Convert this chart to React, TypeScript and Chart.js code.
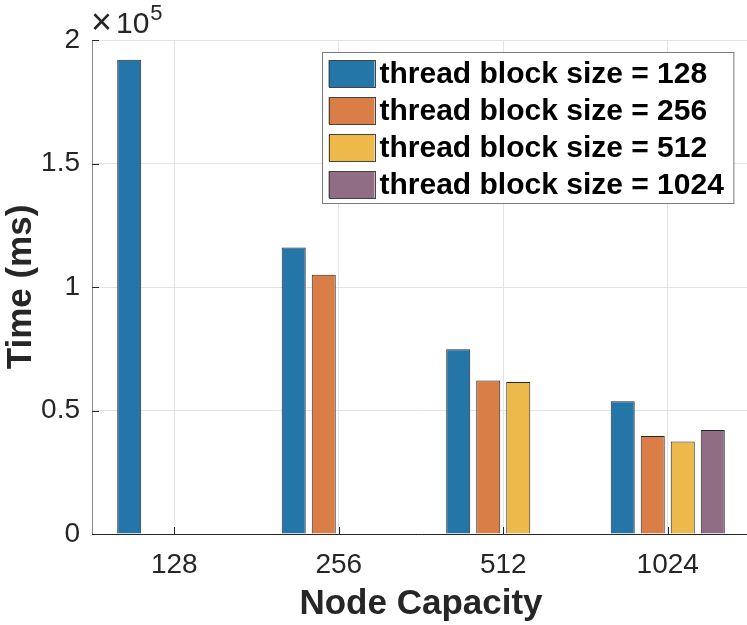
import React, { useEffect, useRef } from 'react';
import { Chart, registerables } from 'chart.js';

Chart.register(...registerables);

const categories = ['128', '256', '512', '1024'];
const seriesLabels = [
  'thread block size = 128',
  'thread block size = 256',
  'thread block size = 512',
  'thread block size = 1024',
];
const tb128 = [192000, 116000, 74800, 53700];
const tb256 = [0, 105000, 62100, 39700];
const tb512 = [0, 0, 61500, 37400];
const tb1024 = [0, 0, 0, 42100];
const yTickValues = [0, 50000, 100000, 150000, 200000];
const yScaleFactor = 100000;
const exponentTimes = '×';
const exponentBase = '10';
const exponentPower = '5';
const seriesColors = ['#2475a8', '#d97e46', '#ecb94a', '#916d84'];

const FONT = '"Liberation Sans", Arial, Helvetica, sans-serif';
const TEXT = '#262626';

const overlayPlugin = {
  id: 'overlay',
  afterDraw(chart: any) {
    const ctx = chart.ctx as CanvasRenderingContext2D;
    const { left, top, bottom, right } = chart.chartArea;
    const ys = chart.scales.y;
    const xs = chart.scales.x;
    ctx.save();
    // inward tick marks
    ctx.strokeStyle = TEXT;
    ctx.lineWidth = 1;
    ctx.beginPath();
    yTickValues.forEach((v) => {
      const py = Math.round(ys.getPixelForValue(v)) + 0.5;
      ctx.moveTo(left, py);
      ctx.lineTo(left + 7, py);
    });
    categories.forEach((_c, i) => {
      const px = Math.round(xs.getPixelForValue(i)) + 0.5;
      ctx.moveTo(px, bottom);
      ctx.lineTo(px, bottom - 7);
    });
    ctx.stroke();

    // exponent label
    ctx.fillStyle = TEXT;
    ctx.textAlign = 'left';
    ctx.textBaseline = 'alphabetic';
    ctx.font = `36px ${FONT}`;
    ctx.fillText(exponentTimes, left - 1, top - 6);
    ctx.font = `30px ${FONT}`;
    ctx.fillText(exponentBase, left + 24, top - 7);
    const bw = ctx.measureText(exponentBase).width;
    ctx.font = `22px ${FONT}`;
    ctx.fillText(exponentPower, left + 25 + bw, top - 20);

    // legend
    ctx.font = `bold 30px ${FONT}`;
    let maxW = 0;
    seriesLabels.forEach((l) => {
      maxW = Math.max(maxW, ctx.measureText(l).width);
    });
    const swW = 46;
    const swH = 27;
    const rowGap = 37;
    const boxW = 6 + swW + 5 + maxW + 10;
    const boxH = 21 + rowGap * 3 + 19;
    const boxR = Math.min(right, 750) - 17;
    const boxX = Math.round(boxR - boxW) + 0.5;
    const boxY = top + 12 + 0.5;
    ctx.fillStyle = '#ffffff';
    ctx.fillRect(boxX, boxY, boxW, boxH);
    ctx.strokeStyle = '#7a7a7a';
    ctx.lineWidth = 1;
    ctx.strokeRect(boxX, boxY, boxW, boxH);
    seriesLabels.forEach((l, i) => {
      const cy = boxY + 21 + rowGap * i;
      const sx = boxX + 6;
      ctx.fillStyle = seriesColors[i];
      ctx.fillRect(sx, cy - swH / 2, swW, swH);
      ctx.strokeStyle = '#444444';
      ctx.strokeRect(Math.round(sx) + 0.5, Math.round(cy - swH / 2) + 0.5, swW, swH);
      ctx.fillStyle = '#000000';
      ctx.textBaseline = 'middle';
      ctx.fillText(l, sx + swW + 5, cy + 1);
    });
    ctx.restore();
  },
};

export default function App() {
  const canvasRef = useRef<HTMLCanvasElement | null>(null);

  useEffect(() => {
    if (!canvasRef.current) return;
    Chart.defaults.font.family = FONT;
    const series = [tb128, tb256, tb512, tb1024];
    const chart = new Chart(canvasRef.current, {
      type: 'bar',
      data: {
        labels: categories,
        datasets: series.map((d, i) => ({
          label: seriesLabels[i],
          data: d,
          backgroundColor: seriesColors[i],
          borderColor: '#262626',
          borderWidth: 1,
          barPercentage: 0.8,
          categoryPercentage: 0.73,
        })),
      },
      options: {
        animation: false,
        responsive: false,
        devicePixelRatio: 1,
        layout: { padding: { left: 0, top: 40, right: 2, bottom: 0 } },
        plugins: {
          legend: { display: false },
          tooltip: { enabled: false },
        },
        scales: {
          x: {
            offset: true,
            grid: { offset: false, color: '#e3e3e3', drawTicks: false },
            border: { color: TEXT, width: 1 },
            ticks: { color: TEXT, font: { size: 28 }, padding: 14, maxRotation: 0 },
            title: {
              display: true,
              text: 'Node Capacity',
              color: TEXT,
              font: { size: 35, weight: 'bold' },
              padding: 0,
            },
            afterFit: (s: any) => {
              s.height = 91;
            },
          },
          y: {
            min: 0,
            max: 200000,
            ticks: {
              stepSize: 50000,
              color: TEXT,
              font: { size: 28 },
              padding: 12,
              callback: (v: any) => String(Number(v) / yScaleFactor),
            },
            grid: { color: '#e3e3e3', drawTicks: false },
            border: { color: '#8a8a8a', width: 1 },
            title: {
              display: true,
              text: 'Time (ms)',
              color: TEXT,
              font: { size: 35, weight: 'bold' },
              padding: 0,
            },
            afterFit: (s: any) => {
              s.width = 92;
            },
          },
        },
      },
      plugins: [overlayPlugin],
    });
    return () => chart.destroy();
  }, []);

  return (
    <div
      style={{
        position: 'fixed',
        left: 0,
        top: 0,
        width: 747,
        height: 625,
        overflow: 'hidden',
        background: '#ffffff',
      }}
    >
      <canvas ref={canvasRef} width={752} height={625} style={{ display: 'block' }} />
    </div>
  );
}
